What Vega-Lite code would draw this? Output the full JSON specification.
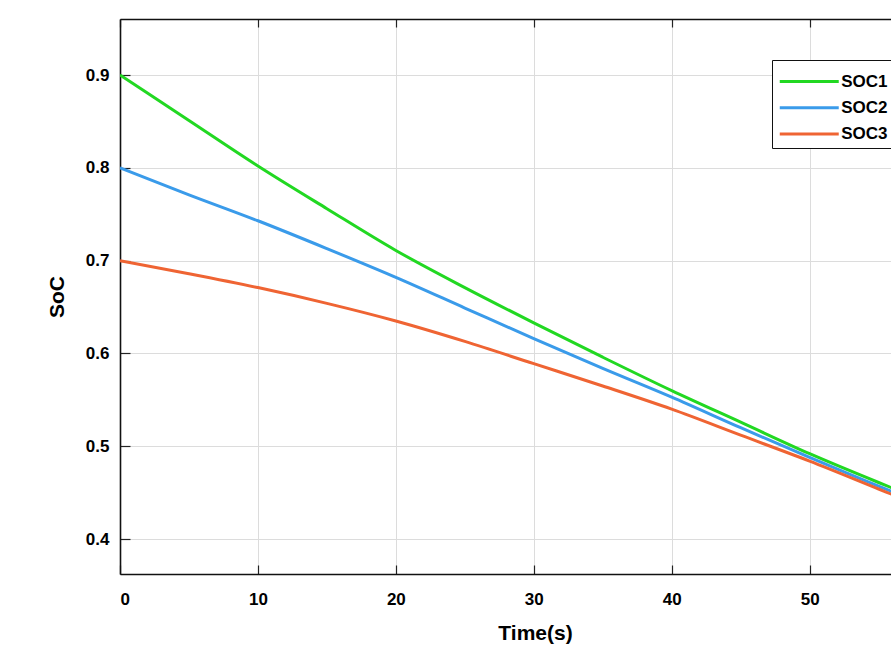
{
  "$schema": "https://vega.github.io/schema/vega-lite/v6.json",
  "autosize": {"type": "none"},
  "padding": {"left": 120, "top": 19, "right": 0, "bottom": 72},
  "width": 771,
  "height": 555,
  "background": "white",
  "config": {
    "view": {"stroke": null},
    "font": "Liberation Sans"
  },
  "data": {
    "values": [
      {"t": 0, "s": "SOC1", "v": 0.900}, {"t": 0, "s": "SOC2", "v": 0.800}, {"t": 0, "s": "SOC3", "v": 0.700},
      {"t": 5, "s": "SOC1", "v": 0.851}, {"t": 5, "s": "SOC2", "v": 0.771}, {"t": 5, "s": "SOC3", "v": 0.686},
      {"t": 10, "s": "SOC1", "v": 0.802}, {"t": 10, "s": "SOC2", "v": 0.743}, {"t": 10, "s": "SOC3", "v": 0.671},
      {"t": 15, "s": "SOC1", "v": 0.756}, {"t": 15, "s": "SOC2", "v": 0.713}, {"t": 15, "s": "SOC3", "v": 0.654},
      {"t": 20, "s": "SOC1", "v": 0.711}, {"t": 20, "s": "SOC2", "v": 0.682}, {"t": 20, "s": "SOC3", "v": 0.635},
      {"t": 25, "s": "SOC1", "v": 0.671}, {"t": 25, "s": "SOC2", "v": 0.649}, {"t": 25, "s": "SOC3", "v": 0.613},
      {"t": 30, "s": "SOC1", "v": 0.633}, {"t": 30, "s": "SOC2", "v": 0.616}, {"t": 30, "s": "SOC3", "v": 0.589},
      {"t": 35, "s": "SOC1", "v": 0.596}, {"t": 35, "s": "SOC2", "v": 0.584}, {"t": 35, "s": "SOC3", "v": 0.565},
      {"t": 40, "s": "SOC1", "v": 0.560}, {"t": 40, "s": "SOC2", "v": 0.553}, {"t": 40, "s": "SOC3", "v": 0.540},
      {"t": 45, "s": "SOC1", "v": 0.526}, {"t": 45, "s": "SOC2", "v": 0.520}, {"t": 45, "s": "SOC3", "v": 0.512},
      {"t": 50, "s": "SOC1", "v": 0.492}, {"t": 50, "s": "SOC2", "v": 0.488}, {"t": 50, "s": "SOC3", "v": 0.484},
      {"t": 55, "s": "SOC1", "v": 0.461}, {"t": 55, "s": "SOC2", "v": 0.457}, {"t": 55, "s": "SOC3", "v": 0.454},
      {"t": 56, "s": "SOC1", "v": 0.455}, {"t": 56, "s": "SOC2", "v": 0.451}, {"t": 56, "s": "SOC3", "v": 0.448}
    ]
  },
  "resolve": {"axis": {"x": "independent"}},
  "layer": [
    {
      "mark": {"type": "line", "strokeWidth": 3, "clip": true, "interpolate": "monotone"},
      "encoding": {
        "x": {
          "field": "t", "type": "quantitative",
          "scale": {"domain": [0, 55.9], "nice": false, "zero": false},
          "axis": {
            "orient": "bottom",
            "values": [0, 10, 20, 30, 40, 50],
            "title": "Time(s)",
            "titleFont": "Liberation Sans", "titleFontSize": 21, "titleFontWeight": "bold", "titleColor": "black",
            "titleX": 415, "titlePadding": 15,
            "labelFont": "Liberation Sans", "labelFontSize": 17, "labelFontWeight": "bold", "labelColor": "black",
            "labelPadding": 26,
            "tickSize": -9, "tickColor": "#222", "tickWidth": 1.2,
            "domainColor": "#111", "domainWidth": 1.6,
            "grid": true, "gridColor": "#dcdcdc", "gridWidth": 1
          }
        },
        "y": {
          "field": "v", "type": "quantitative",
          "scale": {"domain": [0.3624, 0.9604], "nice": false, "zero": false},
          "axis": {
            "values": [0.4, 0.5, 0.6, 0.7, 0.8, 0.9],
            "format": ".1f",
            "title": "SoC",
            "titleFont": "Liberation Sans", "titleFontSize": 21, "titleFontWeight": "bold", "titleColor": "black",
            "titlePadding": 18,
            "labelFont": "Liberation Sans", "labelFontSize": 17, "labelFontWeight": "bold", "labelColor": "black",
            "labelPadding": 21,
            "tickSize": -10, "tickColor": "#222", "tickWidth": 1.2,
            "domainColor": "#111", "domainWidth": 1.6,
            "grid": true, "gridColor": "#dcdcdc", "gridWidth": 1
          }
        },
        "color": {
          "field": "s", "type": "nominal",
          "scale": {"domain": ["SOC1", "SOC2", "SOC3"], "range": ["#22d822", "#3a9bea", "#ef6433"]},
          "legend": {
            "title": null,
            "orient": "none",
            "legendX": 652,
            "legendY": 41,
            "symbolType": "M-2,0H2",
            "symbolStrokeWidth": 3,
            "symbolSize": 870,
            "symbolOffset": 15.75,
            "labelFont": "Liberation Sans", "labelFontSize": 17, "labelFontWeight": "bold", "labelColor": "black",
            "labelOffset": 15.5,
            "strokeColor": "#111",
            "fillColor": "white",
            "padding": 5,
            "rowPadding": 1.3
          }
        }
      }
    },
    {
      "mark": {"type": "rule", "opacity": 0},
      "encoding": {
        "x": {
          "datum": 0, "type": "quantitative",
          "axis": {
            "orient": "top",
            "values": [0, 10, 20, 30, 40, 50],
            "labels": false, "title": null,
            "tickSize": -8, "tickColor": "#222", "tickWidth": 1.2,
            "domainColor": "#111", "domainWidth": 1.6,
            "grid": false
          }
        }
      }
    }
  ]
}
